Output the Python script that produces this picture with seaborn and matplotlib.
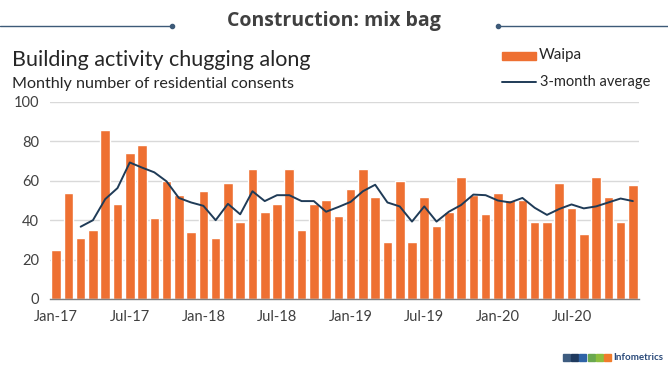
import numpy as np
import pandas as pd
import matplotlib.pyplot as plt
import seaborn as sns
from matplotlib.patches import Rectangle
from matplotlib.lines import Line2D

# -----------------------------
# Data
# -----------------------------
months = pd.date_range("2017-01-01", "2020-12-01", freq="MS").strftime("%b-%y").tolist()

consents = [25, 54, 31, 35, 86, 48, 74, 78, 41, 60, 53, 34,
            55, 31, 59, 39, 66, 44, 48, 66, 35, 48, 50, 42,
            56, 66, 52, 29, 60, 29, 52, 37, 44, 62, 53, 43,
            54, 50, 50, 39, 39, 59, 46, 33, 62, 52, 39, 58]

avg_3m = [np.nan, np.nan, 36.7, 40.0, 50.7, 56.3, 69.3, 66.7, 64.3, 59.7, 51.3, 49.0,
          47.3, 40.0, 48.3, 43.0, 54.7, 49.7, 52.7, 52.7, 49.7, 49.7, 44.3, 46.7,
          49.3, 54.7, 58.0, 49.0, 47.0, 39.3, 47.0, 39.3, 44.3, 47.7, 53.0, 52.7,
          50.0, 49.0, 51.3, 46.3, 42.7, 45.7, 48.0, 46.0, 47.0, 49.0, 51.0, 49.7]

tick_labels = ["Jan-17", "Jul-17", "Jan-18", "Jul-18", "Jan-19", "Jul-19", "Jan-20", "Jul-20"]

df = pd.DataFrame({"month": months, "consents": consents, "avg": avg_3m})
df["pos"] = np.arange(len(df))

# -----------------------------
# Style
# -----------------------------
sns.set_style("white")
plt.rcParams["font.family"] = ["Lato", "DejaVu Sans"]

W, H = 668, 371
BAR = "#EE7032"
LINE = "#1F3B57"
TXT = "#404040"


def fx(x):
    return x / W


def fy(y):
    return 1 - y / H


fig = plt.figure(figsize=(W / 100, H / 100), dpi=100)
ax = fig.add_axes([fx(50), fy(299), (639 - 50) / W, (299 - 102) / H])

sns.barplot(data=df, x="pos", y="consents", color=BAR, saturation=1,
            width=0.78, ax=ax)
sns.lineplot(x=df["pos"][2:], y=df["avg"][2:], color=LINE, lw=1.4, ax=ax)

ax.set_xlim(-0.5, len(df) - 0.5)
ax.set_ylim(0, 100)
ax.set_yticks(range(0, 101, 20))
ax.set_xticks(range(0, len(df), 6))
ax.set_xticklabels(tick_labels)
ax.set_xticks(np.arange(-0.5, len(df), 6), minor=True)
ax.tick_params(axis="x", which="major", length=0, pad=8, labelsize=10.5, labelcolor=TXT)
ax.tick_params(axis="x", which="minor", length=5, width=1, color="#7f7f7f", direction="out")
ax.tick_params(axis="y", length=0, pad=8, labelsize=10.5, labelcolor=TXT)
ax.set_xlabel("")
ax.set_ylabel("")
ax.grid(axis="y", color="#d9d9d9", lw=1)
ax.set_axisbelow(True)
for s in ["top", "right", "left"]:
    ax.spines[s].set_visible(False)
ax.spines["bottom"].set_color("#7f7f7f")
ax.spines["bottom"].set_linewidth(1)

# -----------------------------
# Header, titles, legend
# -----------------------------
fig.text(fx(334), fy(21), "Construction: mix bag", ha="center", va="center",
         fontsize=14, fontweight="bold", color=TXT, family=["Open Sans", "DejaVu Sans"])
for x0, x1, xd in [(0, 172, 172), (498, W, 498)]:
    fig.add_artist(Line2D([fx(x0), fx(x1)], [fy(26), fy(26)], color="#3D5A78", lw=1))
    fig.add_artist(Line2D([fx(xd)], [fy(26)], marker="o", ms=3, color="#3D5A78"))

fig.text(fx(12), fy(66), "Building activity chugging along", ha="left", va="baseline",
         fontsize=15.5, color="#262626")
fig.text(fx(12), fy(88), "Monthly number of residential consents", ha="left", va="baseline",
         fontsize=11.6, color="#262626")

fig.add_artist(Rectangle((fx(502), fy(60)), (536 - 502) / W, 8 / H, color=BAR))
fig.text(fx(539), fy(55.5), "Waipa", ha="left", va="center", fontsize=11, color="#262626")
fig.add_artist(Line2D([fx(502), fx(536)], [fy(82), fy(82)], color=LINE, lw=1.4))
fig.text(fx(540), fy(82), "3-month average", ha="left", va="center", fontsize=10.5, color="#262626")

# logo
logo_cols = ["#3E5C80", "#1F3A5F", "#2F63A6", "#6AA84F", "#8DBE3E", "#F07B2B"]
for i, c in enumerate(logo_cols):
    fig.add_artist(Rectangle((fx(563 + i * 8.2), fy(361)), 7 / W, 7 / H, color=c))
fig.text(fx(613), fy(357.5), "Infometrics", ha="left", va="center", fontsize=7,
         fontweight="bold", color="#2A4A7A", family=["Lato", "DejaVu Sans"])

fig.savefig("out.png", dpi=100)
